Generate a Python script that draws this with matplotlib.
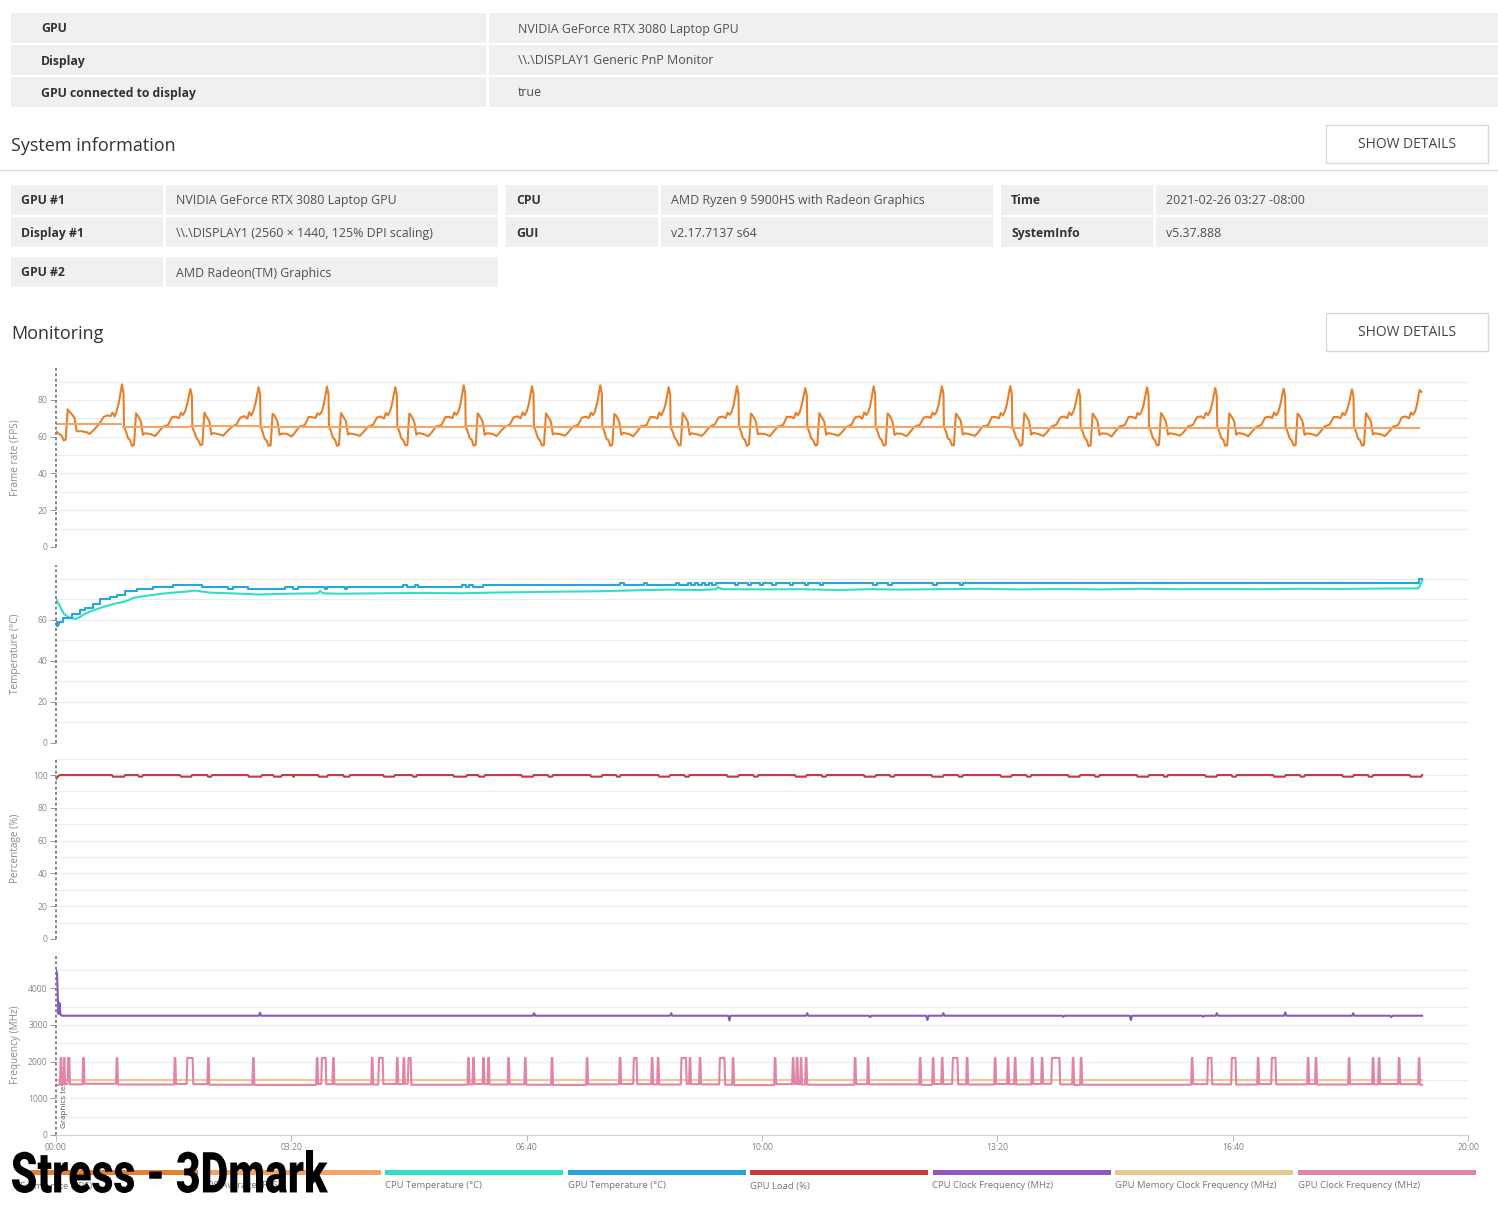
import numpy as np
import matplotlib
matplotlib.use('Agg')
import matplotlib.pyplot as plt
from matplotlib.patches import Rectangle, PathPatch
from matplotlib.textpath import TextPath
from matplotlib.font_manager import FontProperties
from matplotlib.transforms import Affine2D

plt.rcParams['font.family'] = ['Open Sans', 'DejaVu Sans']

# ---------------- page text ----------------
top_labels = ['GPU', 'Display', 'GPU connected to display']
top_values = ['NVIDIA GeForce RTX 3080 Laptop GPU', '\\\\.\\DISPLAY1 Generic PnP Monitor', 'true']

sys_rows = [
    [('GPU #1', 'NVIDIA GeForce RTX 3080 Laptop GPU'), ('CPU', 'AMD Ryzen 9 5900HS with Radeon Graphics'),
     ('Time', '2021-02-26 03:27 -08:00')],
    [('Display #1', '\\\\.\\DISPLAY1 (2560 \u00d7 1440, 125% DPI scaling)'), ('GUI', 'v2.17.7137 s64'),
     ('SystemInfo', 'v5.37.888')],
    [('GPU #2', 'AMD Radeon(TM) Graphics')],
]

legend_labels = ['Frame rate (FPS)', 'FPS Average (FPS)', 'CPU Temperature (\u00b0C)', 'GPU Temperature (\u00b0C)',
                 'GPU Load (%)', 'CPU Clock Frequency (MHz)', 'GPU Memory Clock Frequency (MHz)',
                 'GPU Clock Frequency (MHz)']
legend_colors = ['#e5802c', '#f4a468', '#2fe0c4', '#27a6de', '#c43c3c', '#8c58c0', '#e8ca8c', '#e283a8']

time_ticks = [0, 200, 400, 600, 800, 1000, 1200]
time_labels = ['00:00', '03:20', '06:40', '10:00', '13:20', '16:40', '20:00']

# ---------------- monitoring data (seconds) ----------------
# frame rate: one row per cycle, values at fps_offsets seconds after each cycle start (a peak)
fps_offsets = [0, 1.3, 1.7, 3.4, 5.1, 6.8, 8.5, 10.2, 11.9, 13.6, 16.1, 17.8, 19.6, 23.8, 28.0, 30.6,
               34.8, 39.1, 42.5, 45.9, 48.4, 50.1, 51.8, 53.5, 55.2]
fps_cycle_start = [-2.0, 56.1, 114.2, 172.2, 230.3, 288.4, 346.5, 404.5, 462.6, 520.7, 578.7, 636.8,
                   694.9, 752.9, 811.0, 869.1, 927.2, 985.2, 1043.3, 1101.4]
fps_cycles = [
    [63.0, 63.0, 63.0, 62.3, 61.2, 60.6, 58.0, 58.4, 74.9, 73.5, 71.8, 70.0, 63.0, 63.0, 62.4, 61.5, 64.2, 67.2, 70.8, 71.6, 71.2, 73.1, 71.0, 73.8, 78.0],
    [88.5, 83.6, 65.5, 62.8, 59.2, 58.2, 55.0, 55.5, 72.7, 71.3, 68.2, 61.0, 61.9, 61.5, 60.4, 62.2, 65.5, 66.4, 70.6, 70.9, 70.0, 73.1, 71.8, 73.6, 77.3],
    [86.0, 82.1, 65.0, 62.5, 59.5, 58.0, 55.4, 55.8, 73.1, 71.0, 68.5, 61.3, 62.0, 61.4, 60.6, 62.5, 65.2, 66.8, 70.4, 71.2, 69.8, 73.4, 71.5, 74.0, 77.8],
    [87.0, 82.8, 65.8, 62.6, 59.0, 57.8, 55.1, 55.3, 72.5, 71.5, 68.0, 61.0, 61.7, 61.6, 60.2, 62.0, 65.6, 66.2, 70.8, 70.6, 70.2, 72.8, 72.0, 73.4, 77.0],
    [87.3, 83.0, 65.3, 62.9, 59.4, 58.4, 55.0, 55.6, 72.9, 71.2, 68.4, 61.2, 61.8, 61.3, 60.5, 62.3, 65.4, 66.5, 70.5, 71.0, 69.9, 73.0, 71.6, 73.8, 77.5],
    [87.0, 82.5, 65.6, 62.7, 59.1, 58.1, 55.3, 55.4, 72.6, 71.4, 68.1, 61.1, 62.0, 61.5, 60.3, 62.1, 65.7, 66.3, 70.7, 70.8, 70.1, 73.2, 71.9, 73.5, 77.2],
    [88.0, 83.4, 65.4, 62.8, 59.3, 58.3, 55.1, 55.7, 72.8, 71.3, 68.3, 61.0, 61.9, 61.7, 60.4, 62.4, 65.3, 66.6, 70.6, 71.1, 70.0, 73.3, 71.7, 73.7, 77.4],
    [87.5, 83.0, 65.5, 62.6, 59.2, 58.0, 55.2, 55.5, 72.7, 71.1, 68.2, 61.2, 61.8, 61.4, 60.6, 62.2, 65.5, 66.4, 70.4, 70.9, 70.2, 73.0, 71.8, 73.6, 77.6],
    [88.0, 83.2, 65.7, 62.9, 59.0, 58.2, 54.9, 55.6, 72.4, 71.4, 68.0, 61.1, 62.1, 61.6, 60.3, 62.3, 65.8, 66.2, 70.7, 70.7, 69.9, 73.2, 71.6, 73.9, 77.1],
    [87.0, 82.6, 65.2, 62.7, 59.4, 58.1, 55.3, 55.4, 72.9, 71.2, 68.4, 61.0, 61.9, 61.3, 60.5, 62.0, 65.4, 66.7, 70.5, 71.0, 70.1, 73.1, 71.9, 73.5, 77.3],
    [87.5, 83.1, 65.6, 62.8, 59.2, 58.3, 55.0, 55.8, 72.6, 71.3, 68.2, 61.3, 61.7, 61.5, 60.4, 62.4, 65.6, 66.3, 70.8, 70.8, 70.0, 73.0, 71.7, 73.7, 77.5],
    [86.5, 82.4, 65.4, 62.5, 59.1, 58.0, 55.2, 55.5, 72.8, 71.0, 68.3, 61.1, 62.0, 61.4, 60.6, 62.1, 65.3, 66.5, 70.6, 71.1, 69.8, 73.3, 71.8, 73.4, 77.0],
    [87.5, 83.0, 65.5, 62.7, 59.3, 58.2, 55.1, 55.6, 72.7, 71.5, 68.1, 61.0, 61.8, 61.6, 60.3, 62.3, 65.5, 66.4, 70.4, 70.9, 70.2, 73.1, 72.0, 73.6, 77.4],
    [87.5, 83.3, 65.3, 62.9, 59.0, 58.4, 55.4, 55.3, 72.5, 71.2, 68.5, 61.2, 61.9, 61.3, 60.5, 62.2, 65.7, 66.2, 70.7, 70.7, 70.0, 72.9, 71.6, 73.8, 77.6],
    [87.6, 83.1, 65.6, 62.6, 59.2, 58.1, 55.0, 55.7, 72.8, 71.3, 68.2, 61.1, 62.1, 61.5, 60.4, 62.0, 65.4, 66.6, 70.5, 71.0, 70.1, 73.2, 71.7, 73.5, 77.2],
    [85.8, 81.9, 65.2, 62.8, 59.4, 58.2, 54.8, 55.4, 72.6, 71.1, 68.3, 61.0, 61.8, 61.7, 60.2, 62.4, 65.6, 66.3, 70.8, 70.8, 69.9, 73.0, 71.9, 73.7, 77.3],
    [86.9, 82.7, 65.5, 62.7, 59.1, 58.0, 55.2, 55.6, 72.9, 71.4, 68.1, 61.2, 61.9, 61.4, 60.6, 62.1, 65.5, 66.5, 70.6, 71.1, 70.0, 73.1, 71.8, 73.6, 77.5],
    [86.5, 82.3, 65.7, 62.9, 59.3, 58.3, 55.0, 55.5, 72.7, 71.2, 68.4, 61.1, 62.0, 61.6, 60.3, 62.3, 65.3, 66.4, 70.5, 70.9, 70.2, 73.3, 71.6, 73.4, 77.1],
    [86.2, 82.0, 65.4, 62.6, 59.2, 58.1, 55.3, 55.4, 72.6, 71.3, 68.2, 61.0, 61.8, 61.5, 60.5, 62.2, 65.6, 66.6, 70.7, 70.8, 70.1, 73.0, 71.7, 73.8, 77.4],
    [85.8, 81.8, 65.3, 62.8, 59.0, 58.2, 55.1, 55.6, 72.8, 71.1, 68.3, 61.2, 61.9, 61.4, 60.4, 62.1, 65.4, 66.3, 70.6, 71.0, 70.0, 73.2, 71.9, 73.5, 77.2],
]
fps_tail_t = [1158.8, 1160.5]
fps_tail = [85.4, 84.4]

fps_avg_edges = [0, 56.1, 114.2, 172.2, 230.3, 288.4, 346.5, 404.5, 462.6, 520.7, 578.7, 636.8,
                 694.9, 752.9, 811.0, 869.1, 927.2, 985.2, 1043.3, 1101.4, 1159.4]
fps_avg = [66.9, 65.5, 65.6, 65.5, 65.5, 65.4, 65.6, 65.4, 65.5, 65.3, 65.4, 65.2, 65.3, 65.1, 65.0,
           65.0, 64.9, 64.8, 64.8, 64.6]

cpu_temp_t = [0, 1.7, 4.3, 6.8, 10.2, 13.6, 17.0, 20.4, 24.7, 30.6, 37.4, 44.2, 50.2, 56.1, 61.2, 65.5,
              71.4, 79.9, 88.4, 96.9, 109.7, 118.2, 122.4, 130.9, 147.9, 173.4, 198.9, 222.7, 224.4, 227.0,
              241.4, 275.4, 309.4, 343.4, 377.4, 402.9, 428.4, 462.4, 496.4, 521.9, 547.4, 561.0, 562.7,
              566.1, 598.4, 632.4, 666.4, 691.9, 717.4, 751.4, 785.4, 819.4, 853.4, 887.4, 921.4, 955.4,
              989.4, 1023.4, 1057.4, 1091.4, 1125.4, 1157.7, 1159.4, 1161.1]
cpu_temp = [70.0, 68.5, 65.5, 63.0, 61.5, 60.8, 60.5, 61.5, 63.0, 64.5, 65.8, 67.0, 68.0, 68.6, 69.5, 70.7,
            71.3, 72.0, 72.7, 73.2, 73.8, 74.3, 74.0, 73.3, 73.0, 72.4, 72.8, 73.0, 74.2, 73.0,
            72.8, 73.0, 73.2, 73.0, 73.4, 73.6, 73.8, 74.0, 74.5, 74.8, 74.6, 75.0, 76.0,
            75.0, 74.9, 75.0, 74.6, 75.0, 74.8, 75.0, 75.2, 74.9, 75.1, 74.9, 75.2, 75.0,
            75.1, 75.0, 75.2, 75.1, 75.3, 75.4, 77.0, 79.2]

gpu_temp_t = [0, 0.8, 1.7, 2.8, 6.2, 13.3, 20.4, 24.7, 31.7, 37.4, 45.9, 51.6, 58.7, 68.6, 82.7, 99.7,
              124.1, 146.2, 150.5, 163.2, 194.7, 201.5, 205.7, 228.7, 230.4, 245.7, 247.4, 295.0, 298.4,
              305.2, 307.7, 345.1, 348.5, 351.1, 354.5, 363.0, 479.4, 482.8, 499.8, 502.4, 527.0, 529.6,
              537.2, 539.8, 543.2, 545.7, 549.1, 551.7, 555.0, 557.6, 561.0, 577.2, 579.7, 588.2, 590.8,
              598.4, 601.0, 608.6, 612.0, 623.9, 626.5, 636.7, 639.2, 649.4, 652.0, 694.5, 697.9, 707.2,
              710.6, 745.5, 748.9, 768.4, 770.9, 1158.5, 1161.0]
gpu_temp = [59, 57, 58, 59, 61, 63, 65, 66, 68, 70, 71, 72, 74, 75, 76, 77,
            76, 75, 76, 75, 76, 75, 76, 75, 76, 75, 76, 77, 76,
            77, 76, 77, 76, 77, 76, 77, 78, 77, 78, 77, 78, 77,
            78, 77, 78, 77, 78, 77, 78, 77, 78, 77, 78, 77, 78,
            77, 78, 77, 78, 77, 78, 77, 78, 77, 78, 77, 78, 77,
            78, 77, 78, 77, 78, 80, 80]

gpu_load_head_t = [0, 1.5, 3.0]
gpu_load_head = [97.5, 99.0, 100.0]
gpu_load_dips = [(47.6, 58.7), (69.7, 74.0), (105.4, 115.6), (128.4, 132.6), (163.2, 175.1), (184.5, 192.1),
                 (201.5, 202.5), (222.7, 231.2), (244.0, 250.0), (278.0, 288.0), (302.6, 306.9),
                 (337.5, 349.4), (358.7, 364.7), (395.5, 406.0), (418.0, 422.5), (454.0, 464.5),
                 (476.0, 480.0), (512.0, 522.0), (534.0, 538.5), (570.0, 580.5), (592.5, 597.0),
                 (628.0, 638.0), (650.5, 655.0), (686.5, 697.0), (708.5, 713.0), (744.0, 754.5),
                 (766.5, 771.0), (802.5, 812.5), (824.5, 829.0), (860.0, 870.5), (882.5, 887.0),
                 (918.5, 929.0), (941.0, 945.0), (976.5, 987.0), (999.0, 1003.5), (1034.5, 1045.0),
                 (1057.0, 1061.5), (1093.0, 1103.0), (1115.0, 1119.5), (1150.5, 1161.0)]
gpu_load_full, gpu_load_dip = 100.0, 99.0

cpu_clock_t = [0, 0.9, 1.7, 2.1, 3.0, 3.8, 5.1, 172.4, 173.4, 174.4, 405.3, 406.3, 407.3, 521.8, 522.8,
               523.8, 571.3, 572.3, 573.3, 637.4, 638.4, 639.4, 690.9, 691.9, 692.9, 739.6, 740.6, 741.6,
               753.2, 754.2, 755.2, 855.0, 856.0, 857.0, 912.5, 913.5, 914.5, 974.0, 975.0, 976.0, 985.6,
               986.6, 987.6, 1043.7, 1044.7, 1045.7, 1101.5, 1102.5, 1103.5, 1133.8, 1134.8, 1135.8, 1161.0]
cpu_clock = [4500, 4400, 3600, 3300, 3600, 3280, 3250, 3250, 3330, 3250, 3250, 3320, 3250, 3250, 3320,
             3250, 3250, 3120, 3250, 3250, 3320, 3250, 3250, 3210, 3250, 3250, 3130, 3250,
             3250, 3320, 3250, 3250, 3220, 3250, 3250, 3130, 3250, 3250, 3220, 3250, 3250,
             3320, 3250, 3250, 3340, 3250, 3250, 3320, 3250, 3250, 3210, 3250, 3250]

mem_clock_t = [0.5, 1161.0]
mem_clock = [1500, 1500]

gpu_clock_boost = 2100
gpu_clock_spikes = [
    (3.4, 5.1), (6.4, 7.7), (9.8, 11.9), (22.5, 24.2), (51.0, 52.7), (100.3, 102.0), (111.0, 116.7),
    (128.6, 130.3), (166.9, 168.6), (221.1, 222.8), (225.4, 229.7), (234.9, 236.6), (267.9, 269.6),
    (273.9, 278.2), (289.2, 290.9), (294.8, 296.5), (299.0, 302.0), (349.7, 351.4), (354.0, 355.7),
    (362.5, 364.2), (366.8, 368.5), (383.8, 385.5), (398.0, 399.7), (420.7, 422.4), (450.5, 452.2),
    (478.5, 480.3), (490.5, 494.0), (505.8, 507.5), (510.9, 512.6), (531.0, 536.0), (538.0, 539.6),
    (546.5, 548.2), (563.6, 568.7), (574.6, 576.3), (610.3, 612.0), (625.6, 627.3), (629.0, 630.7),
    (632.4, 634.0), (636.6, 638.4), (678.3, 680.0), (689.4, 691.0), (733.6, 735.3), (744.6, 746.3),
    (752.3, 754.0), (761.6, 766.7), (773.5, 775.2), (797.3, 799.0), (808.3, 810.0), (814.3, 816.0),
    (828.8, 830.5), (837.2, 838.9), (845.8, 853.4), (863.6, 865.3), (870.4, 872.1), (964.7, 966.4),
    (978.4, 982.6), (998.7, 1003.0), (1020.8, 1022.5), (1032.7, 1037.0), (1063.3, 1065.0),
    (1070.0, 1071.7), (1098.1, 1099.8), (1118.5, 1120.2), (1123.6, 1125.3), (1140.6, 1142.3),
    (1157.6, 1159.3)]
gpu_clock_low = [1370, 1385, 1390, 1380, 1395, 1375, 1390, 1385, 1370, 1365,
                 1390, 1385, 1380, 1375, 1390, 1385, 1395, 1370, 1380, 1390,
                 1385, 1375, 1380, 1370, 1365, 1380, 1390, 1385, 1380, 1375,
                 1390, 1385, 1380, 1370, 1360, 1385, 1390, 1380, 1375, 1370,
                 1385, 1380, 1365, 1390, 1385, 1380, 1375, 1390, 1385, 1380,
                 1390, 1395, 1380, 1365, 1370, 1385, 1380, 1375, 1385, 1380,
                 1390, 1375, 1385, 1380, 1390, 1385, 1370]
gpu_clock_end = 1161.0

# ---------------- series assembly ----------------
fps_t = np.concatenate([np.add.outer(fps_cycle_start, fps_offsets).ravel(), fps_tail_t])
fps = np.concatenate([np.array(fps_cycles).ravel(), fps_tail])

load_t, load_v = list(gpu_load_head_t), list(gpu_load_head)
for a, b in gpu_load_dips:
    load_t += [a, a + 0.8, b - 0.8, b]
    load_v += [gpu_load_full, gpu_load_dip, gpu_load_dip, gpu_load_full]

gclk_t, gclk_v = [0.0], [gpu_clock_low[0]]
for i, (a, b) in enumerate(gpu_clock_spikes):
    gclk_t += [a, a + 0.6, b - 0.6, b]
    gclk_v += [gpu_clock_low[i], gpu_clock_boost, gpu_clock_boost, gpu_clock_low[i + 1]]
gclk_t.append(gpu_clock_end)
gclk_v.append(gpu_clock_low[-1])

# ---------------- figure ----------------
W, H = 1498, 1208
fig = plt.figure(figsize=(W / 100, H / 100), dpi=100)
fig.patch.set_facecolor('white')


def box(x0, y0, x1, y1, **kw):
    fig.add_artist(Rectangle((x0 / W, 1 - y1 / H), (x1 - x0) / W, (y1 - y0) / H,
                             transform=fig.transFigure, **kw))


def txt(x, y, s, **kw):
    kw.setdefault('va', 'center')
    fig.text(x / W, 1 - y / H, s, **kw)


cell = '#f0f0f0'
for i, (y0, y1) in enumerate([(13, 43), (45, 75), (77, 107)]):
    box(11, y0, 486, y1, color=cell, lw=0)
    box(489, y0, 1498, y1, color=cell, lw=0)
    txt(41, (y0 + y1) / 2 + 1, top_labels[i], fontsize=8.8, fontweight='bold', color='#333333')
    txt(518, (y0 + y1) / 2 + 1, top_values[i], fontsize=8.9, color='#505050')

txt(11, 146, 'System information', fontsize=13, color='#333333')
fig.add_artist(plt.Line2D([0, 1], [1 - 170 / H] * 2, transform=fig.transFigure, color='#dddddd', lw=1))
txt(11, 334, 'Monitoring', fontsize=13, color='#333333')
for yb in (125, 313):
    box(1326, yb, 1488, yb + 38, facecolor='white', edgecolor='#d8d8d8', lw=1)
    txt(1407, yb + 20, 'SHOW DETAILS', fontsize=10, color='#444444', ha='center')

cols = [(11, 163, 166, 498), (506, 658, 661, 993), (1001, 1153, 1156, 1488)]
for (y0, y1), row in zip([(185, 215), (217, 247), (257, 287)], sys_rows):
    for (a0, a1, b0, b1), (lab, val) in zip(cols, row):
        box(a0, y0, a1, y1, color=cell, lw=0)
        box(b0, y0, b1, y1, color=cell, lw=0)
        txt(a0 + 10, (y0 + y1) / 2 + 1, lab, fontsize=8.8, fontweight='bold', color='#333333')
        txt(b0 + 10, (y0 + y1) / 2 + 1, val, fontsize=8.9, color='#505050')

# panels: (top px, bottom px, ymax, label ticks, grid step, label)
panels = [
    (368, 547, 97.4, [0, 20, 40, 60, 80], 10, 'Frame rate (FPS)'),
    (565, 743, 86.8, [0, 20, 40, 60], 10, 'Temperature (\u00b0C)'),
    (758, 939, 110.4, [0, 20, 40, 60, 80, 100], 10, 'Percentage (%)'),
    (955, 1135, 4905, [0, 1000, 2000, 3000, 4000], 500, 'Frequency (MHz)'),
]
axes = []
for top, bot, ymax, yt, step, lab in panels:
    ax = fig.add_axes([56 / W, 1 - bot / H, 1412 / W, (bot - top) / H])
    ax.set_xlim(0, 1200)
    ax.set_ylim(0, ymax)
    ax.set_yticks(yt)
    ax.set_yticks(np.arange(0, ymax, step), minor=True)
    ax.grid(axis='y', which='both', color='#ececec', lw=0.8)
    ax.set_axisbelow(True)
    for s in ('top', 'right', 'bottom'):
        ax.spines[s].set_visible(False)
    ax.spines['left'].set_linestyle((0, (1.8, 1.4)))
    ax.spines['left'].set_color('#777777')
    ax.spines['left'].set_linewidth(1.2)
    ax.spines['left'].set_capstyle('butt')
    ax.tick_params(axis='y', which='major', length=4, width=0.7, color='#999999', labelsize=6.2,
                   labelcolor='#8a8a8a', pad=2)
    ax.tick_params(axis='y', which='minor', length=0)
    ax.tick_params(axis='x', bottom=False, labelbottom=False)
    ax.set_ylabel(lab, fontsize=7.2, color='#8a8a8a')
    ax.yaxis.set_label_coords(-35 / 1412, 0.5)
    axes.append(ax)

ax1, ax2, ax3, ax4 = axes
lw = 1.5
ax1.plot(fps_t, fps, color=legend_colors[0], lw=lw)
ax1.hlines(fps_avg, fps_avg_edges[:-1], fps_avg_edges[1:], color=legend_colors[1], lw=lw)
ax2.plot(cpu_temp_t, cpu_temp, color=legend_colors[2], lw=lw)
ax2.plot(gpu_temp_t, gpu_temp, color=legend_colors[3], lw=lw, drawstyle='steps-post')
ax3.plot(load_t, load_v, color=legend_colors[4], lw=lw)
ax4.text(6.8, 190, 'Graphics test', rotation=90, ha='center', va='bottom', fontsize=5.8,
         color='#555555', zorder=1)
ax4.plot(cpu_clock_t, cpu_clock, color=legend_colors[5], lw=lw)
ax4.plot(mem_clock_t, mem_clock, color=legend_colors[6], lw=lw)
ax4.plot(gclk_t, gclk_v, color=legend_colors[7], lw=lw)

ax4.spines['bottom'].set_visible(True)
ax4.spines['bottom'].set_color('#d0d0d0')
ax4.set_xticks(time_ticks)
ax4.set_xticklabels(time_labels)
ax4.tick_params(axis='x', bottom=True, labelbottom=True, length=4, width=0.7, color='#bbbbbb',
                labelsize=6.2, labelcolor='#808080', pad=2)

# legend strip
for i, (lab, c) in enumerate(zip(legend_labels, legend_colors)):
    x = 20 + i * 182.5
    box(x, 1170, x + 178, 1175, color=c, lw=0)
    txt(x, 1186, lab, fontsize=6.8, color='#777777')

# big overlay caption, condensed by scaling the glyph outlines
tp = TextPath((0, 0), 'Stress - 3Dmark', size=100,
              prop=FontProperties(family=['Roboto', 'DejaVu Sans'], weight='black'))
ext = tp.get_extents()
x0, x1, yt, yb = 12, 328, 1150, 1193
tr = (Affine2D().translate(-ext.x0, -ext.y0)
      .scale((x1 - x0) / ext.width / W, (yb - yt) / ext.height / H)
      .translate(x0 / W, 1 - yb / H) + fig.transFigure)
fig.add_artist(PathPatch(tp, transform=tr, facecolor='black', edgecolor='none', zorder=10))

fig.savefig('out.png', dpi=100, facecolor='white')
